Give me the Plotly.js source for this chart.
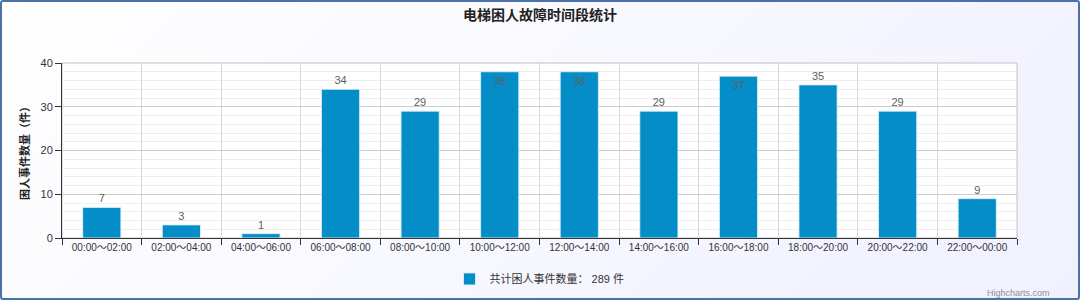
<!DOCTYPE html>
<html>
<head>
<meta charset="utf-8">
<script src="https://cdn.plot.ly/plotly-3.0.1.min.js"></script>
<style>
  html, body { margin: 0; padding: 0; }
  #wrap { position: relative; width: 1080px; height: 300px;
          background: linear-gradient(135deg, #ffffff 0%, #f0f0ff 100%); overflow: hidden; }
  #chart { position: absolute; left: 0; top: 0; width: 1080px; height: 300px; }
  #frame { position: absolute; left: 0; top: 0; width: 1080px; height: 300px; box-sizing: border-box;
           border: 2px solid #4a72a8; border-radius: 3px; pointer-events: none; }
</style>
</head>
<body>
<div id="wrap"><div id="chart"></div><div id="frame"></div></div>
<script>
const chartTitle = "电梯困人故障时间段统计";
const yTitle = "困人事件数量（件）";
const categories = ["00:00～02:00", "02:00～04:00", "04:00～06:00", "06:00～08:00",
  "08:00～10:00", "10:00～12:00", "12:00～14:00", "14:00～16:00",
  "16:00～18:00", "18:00～20:00", "20:00～22:00", "22:00～00:00"];
const counts = [7, 3, 1, 34, 29, 38, 38, 29, 37, 35, 29, 9];
const seriesName = "共计困人事件数量： 289 件";
const yTicks = [0, 10, 20, 30, 40];
const creditText = "Highcharts.com";

const FONT = '"Liberation Sans", "Noto Sans CJK SC", sans-serif';
const positions = counts.map(v => v >= 37 ? "inside" : "outside");

const trace = {
  type: "bar",
  x: categories,
  y: counts,
  name: seriesName,
  text: counts.map(String),
  textposition: positions,
  insidetextanchor: "end",
  textangle: 0,
  constraintext: "none",
  cliponaxis: false,
  textfont: { family: FONT, size: 11, color: "#606060" },
  insidetextfont: { family: FONT, size: 11, color: "#606060" },
  outsidetextfont: { family: FONT, size: 11, color: "#606060" },
  marker: { color: "#058DC7", line: { color: "rgba(220,240,250,0.9)", width: 1 } },
  hoverinfo: "x+y"
};

const layout = {
  width: 1080, height: 300,
  paper_bgcolor: "rgba(0,0,0,0)",
  plot_bgcolor: "#ffffff",
  margin: { l: 62, r: 63, t: 63, b: 62, autoexpand: false },
  font: { family: FONT, size: 11, color: "#333333" },
  title: { text: "<b>" + chartTitle + "</b>", x: 0.5, xanchor: "center", y: 0.95, yanchor: "middle",
           font: { family: '"Noto Sans CJK SC", sans-serif', size: 14, color: "#222222" } },
  bargap: 0.52,
  showlegend: true,
  legend: { orientation: "h", x: 0.5, xanchor: "center", y: -0.234, yanchor: "middle",
            font: { family: FONT, size: 11, color: "#333333" }, bgcolor: "rgba(0,0,0,0)" },
  xaxis: {
    type: "category",
    tickson: "boundaries",
    showgrid: true, gridcolor: "#d8d8d8", gridwidth: 1,
    showline: true, linecolor: "#333333", linewidth: 1,
    ticks: "outside", ticklen: 6, tickcolor: "#333333",
    tickfont: { family: FONT, size: 10, color: "#333333" },
    fixedrange: true
  },
  yaxis: {
    range: [0, 40],
    tickvals: yTicks,
    showgrid: true, gridcolor: "#cccccc", gridwidth: 1,
    minor: { dtick: 2, showgrid: true, gridcolor: "#eeeeee", gridwidth: 1, ticks: "" },
    showline: true, linecolor: "#333333", linewidth: 1,
    ticks: "outside", ticklen: 6, tickcolor: "#333333",
    tickfont: { family: FONT, size: 11, color: "#333333" },
    zeroline: false,
    title: { text: yTitle, standoff: 8,
             font: { family: '"Noto Sans CJK SC", sans-serif', size: 11, color: "#222222", weight: 600 } },
    fixedrange: true
  },
  shapes: [
    { type: "rect", xref: "paper", yref: "paper", x0: 0, x1: 1, y0: 0, y1: 1, layer: "below",
      line: { color: "#c0c0c0", width: 1 } }
  ],
  annotations: [
    { text: creditText, xref: "paper", yref: "paper", x: 1.0366, y: -0.314, xanchor: "right", yanchor: "middle",
      showarrow: false, font: { family: FONT, size: 9, color: "#909090" } }
  ]
};

Plotly.newPlot("chart", [trace], layout, { displayModeBar: false, staticPlot: true });
</script>
</body>
</html>
